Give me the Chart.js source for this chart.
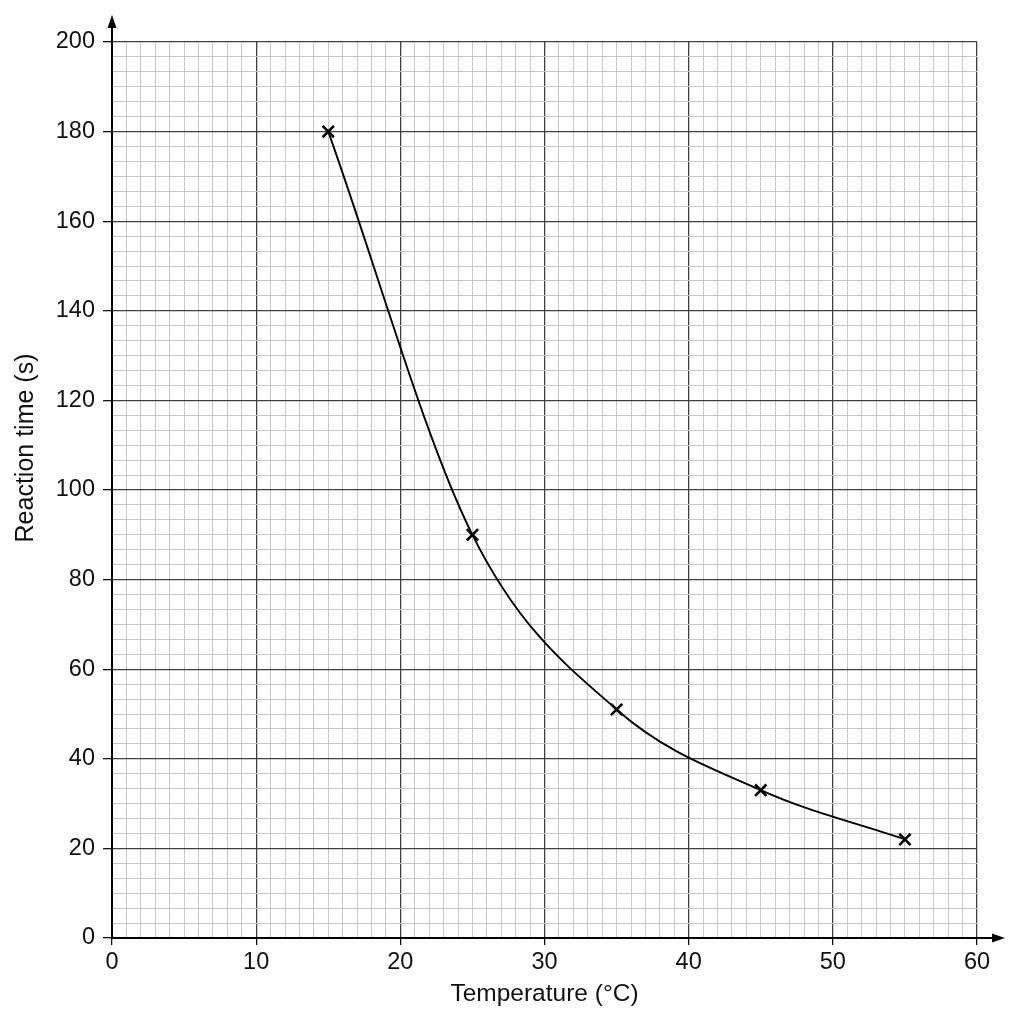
<!DOCTYPE html>
<html>
<head>
<meta charset="utf-8">
<script src="https://cdn.jsdelivr.net/npm/chart.js@4.4.1/dist/chart.umd.min.js"></script>
<style>
  body { margin: 0; background: #fff; }
  #wrap { width: 1024px; height: 1024px; }
</style>
</head>
<body>
<div id="wrap"><canvas id="chartReaksi" width="1024" height="1024"></canvas></div>
<script>
// data
const suhu = [15, 25, 35, 45, 55];          // Temperature (°C)
const waktuReaksi = [180, 90, 51, 33, 22];  // Reaction time (s)

// axis ticks
const xMajor = [0, 10, 20, 30, 40, 50, 60];
const yMajor = [0, 20, 40, 60, 80, 100, 120, 140, 160, 180, 200];
const xMinorPerMajor = 10;
const yMinorPerMajor = 6;

const judulX = 'Temperature (°C)';
const judulY = 'Reaction time (s)';

const fontName = "'Liberation Sans', Arial, sans-serif";

function buildTicks(major, perMajor) {
    const out = [];
    for (let i = 0; i < major.length - 1; i++) {
        const step = (major[i + 1] - major[i]) / perMajor;
        for (let j = 0; j < perMajor; j++) out.push(major[i] + j * step);
    }
    out.push(major[major.length - 1]);
    return out;
}

function isMajor(v, major) {
    return major.some(m => Math.abs(m - v) < 1e-6);
}

const gridStyle = (major) => ({
    color: ctx => isMajor(ctx.tick.value, major) ? '#404040' : '#c8c8c8',
    lineWidth: ctx => isMajor(ctx.tick.value, major) ? 1.3 : 1,
    tickColor: ctx => isMajor(ctx.tick.value, major) ? '#111' : 'rgba(0,0,0,0)',
    drawTicks: true
});

const panahSumbu = {
    id: 'panahSumbu',
    afterDraw(chart) {
        const { ctx, scales: { x, y } } = chart;
        const x0 = x.getPixelForValue(xMajor[0]);
        const y0 = y.getPixelForValue(yMajor[0]);
        const yTop = y.getPixelForValue(yMajor[yMajor.length - 1]);
        const xRight = x.getPixelForValue(xMajor[xMajor.length - 1]);
        ctx.save();
        ctx.strokeStyle = '#000';
        ctx.fillStyle = '#000';
        ctx.lineWidth = 2;
        // y axis extension + arrow
        ctx.beginPath();
        ctx.moveTo(x0, yTop);
        ctx.lineTo(x0, yTop - 18);
        ctx.stroke();
        ctx.beginPath();
        ctx.moveTo(x0, yTop - 27);
        ctx.lineTo(x0 - 4.5, yTop - 14);
        ctx.lineTo(x0 + 4.5, yTop - 14);
        ctx.closePath();
        ctx.fill();
        // x axis extension + arrow
        ctx.beginPath();
        ctx.moveTo(xRight, y0);
        ctx.lineTo(xRight + 18, y0);
        ctx.stroke();
        ctx.beginPath();
        ctx.moveTo(xRight + 28, y0);
        ctx.lineTo(xRight + 15, y0 - 4.5);
        ctx.lineTo(xRight + 15, y0 + 4.5);
        ctx.closePath();
        ctx.fill();

        // y axis title, sits a little above the middle of the axis
        ctx.fillStyle = '#111';
        ctx.font = `25px ${fontName}`;
        ctx.textAlign = 'center';
        ctx.textBaseline = 'middle';
        ctx.translate(26, 448);
        ctx.rotate(-Math.PI / 2);
        ctx.fillText(judulY, 0, 0);
        ctx.restore();
    }
};

const ctx = document.getElementById('chartReaksi').getContext('2d');
new Chart(ctx, {
    type: 'line',
    data: {
        datasets: [{
            data: suhu.map((t, i) => ({ x: t, y: waktuReaksi[i] })),
            borderColor: '#000',
            borderWidth: 1.9,
            cubicInterpolationMode: 'monotone',
            pointStyle: 'crossRot',
            pointRadius: 8,
            pointBorderWidth: 2.6,
            pointBorderColor: '#000',
            fill: false
        }]
    },
    options: {
        responsive: false,
        animation: false,
        devicePixelRatio: 1,
        layout: { padding: { top: 42, right: 47, left: 0, bottom: 0 } },
        plugins: { legend: { display: false }, tooltip: { enabled: false } },
        scales: {
            x: {
                type: 'linear',
                min: xMajor[0],
                max: xMajor[xMajor.length - 1],
                afterBuildTicks: s => { s.ticks = buildTicks(xMajor, xMinorPerMajor).map(v => ({ value: v })); },
                afterFit: s => { s.height = 86; },
                grid: { ...gridStyle(xMajor), tickLength: 7 },
                border: { color: '#000', width: 2 },
                ticks: {
                    autoSkip: false,
                    maxRotation: 0,
                    padding: 3,
                    color: '#111',
                    font: { family: fontName, size: 23.5 },
                    callback: v => isMajor(v, xMajor) ? String(Math.round(v)) : ''
                },
                title: {
                    display: true,
                    text: judulX,
                    color: '#111',
                    font: { family: fontName, size: 24.5 },
                    padding: { top: 0, bottom: 15 }
                }
            },
            y: {
                type: 'linear',
                min: yMajor[0],
                max: yMajor[yMajor.length - 1],
                afterBuildTicks: s => { s.ticks = buildTicks(yMajor, yMinorPerMajor).map(v => ({ value: v })); },
                afterFit: s => { s.width = 112; },
                grid: { ...gridStyle(yMajor), tickLength: 9 },
                border: { color: '#000', width: 2 },
                ticks: {
                    autoSkip: false,
                    padding: 8,
                    color: '#111',
                    font: { family: fontName, size: 23.5 },
                    callback: v => isMajor(v, yMajor) ? String(Math.round(v)) : ''
                }
            }
        }
    },
    plugins: [panahSumbu]
});
</script>
</body>
</html>
